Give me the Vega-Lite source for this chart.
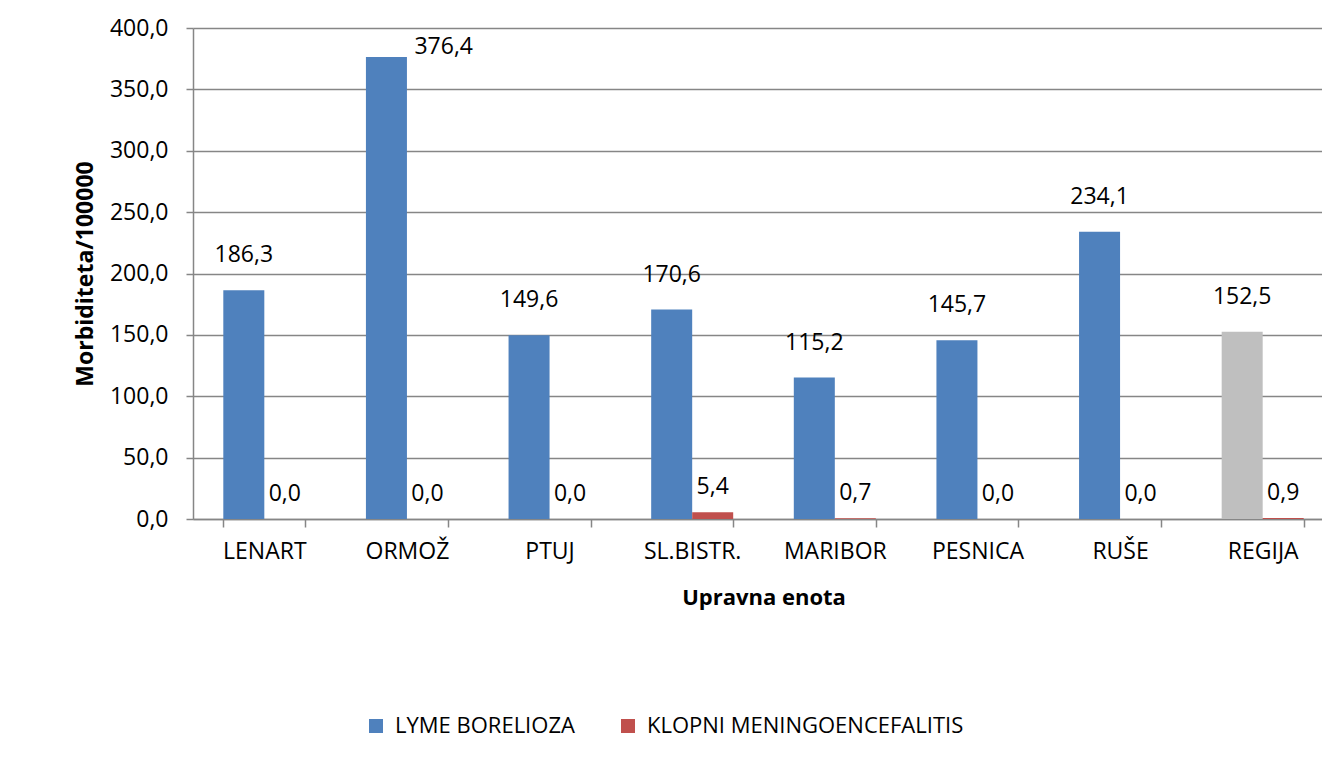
{
  "$schema": "https://vega.github.io/schema/vega-lite/v6.json",
  "width": 1129,
  "height": 491,
  "autosize": {"type": "none"},
  "padding": {"left": 193, "top": 28, "right": 0, "bottom": 241},
  "background": "white",
  "config": {
    "locale": {"number": {"decimal": ",", "thousands": ".", "grouping": [3], "currency": ["", " €"]}},
    "font": "Open Sans",
    "view": {"stroke": null},
    "axis": {
      "domainColor": "#868686",
      "domainWidth": 1.5,
      "tickColor": "#868686",
      "tickWidth": 1.5,
      "gridColor": "#868686",
      "gridWidth": 1.5,
      "labelColor": "#000000",
      "labelFont": "Open Sans",
      "labelFontSize": 23,
      "titleColor": "#000000",
      "titleFont": "Open Sans",
      "titleFontWeight": "bold"
    }
  },
  "data": {
    "values": [
      {"ue": "LENART", "bolezen": "LYME BORELIOZA", "vrednost": 186.3},
      {"ue": "LENART", "bolezen": "KLOPNI MENINGOENCEFALITIS", "vrednost": 0.0},
      {"ue": "ORMOŽ", "bolezen": "LYME BORELIOZA", "vrednost": 376.4},
      {"ue": "ORMOŽ", "bolezen": "KLOPNI MENINGOENCEFALITIS", "vrednost": 0.0},
      {"ue": "PTUJ", "bolezen": "LYME BORELIOZA", "vrednost": 149.6},
      {"ue": "PTUJ", "bolezen": "KLOPNI MENINGOENCEFALITIS", "vrednost": 0.0},
      {"ue": "SL.BISTR.", "bolezen": "LYME BORELIOZA", "vrednost": 170.6},
      {"ue": "SL.BISTR.", "bolezen": "KLOPNI MENINGOENCEFALITIS", "vrednost": 5.4},
      {"ue": "MARIBOR", "bolezen": "LYME BORELIOZA", "vrednost": 115.2},
      {"ue": "MARIBOR", "bolezen": "KLOPNI MENINGOENCEFALITIS", "vrednost": 0.7},
      {"ue": "PESNICA", "bolezen": "LYME BORELIOZA", "vrednost": 145.7},
      {"ue": "PESNICA", "bolezen": "KLOPNI MENINGOENCEFALITIS", "vrednost": 0.0},
      {"ue": "RUŠE", "bolezen": "LYME BORELIOZA", "vrednost": 234.1},
      {"ue": "RUŠE", "bolezen": "KLOPNI MENINGOENCEFALITIS", "vrednost": 0.0},
      {"ue": "REGIJA", "bolezen": "LYME BORELIOZA", "vrednost": 152.5},
      {"ue": "REGIJA", "bolezen": "KLOPNI MENINGOENCEFALITIS", "vrednost": 0.9}
    ]
  },
  "encoding": {
    "x": {
      "field": "ue",
      "type": "nominal",
      "sort": ["LENART", "ORMOŽ", "PTUJ", "SL.BISTR.", "MARIBOR", "PESNICA", "RUŠE", "REGIJA"],
      "scale": {"range": [0, 1141], "paddingInner": 0.425, "paddingOuter": 0.2125},
      "axis": {
        "title": "Upravna enota",
        "titleFontSize": 22,
        "titlePadding": 24,
        "labelAngle": 0,
        "labelPadding": 13,
        "tickBand": "extent",
        "tickSize": 8,
        "grid": false
      }
    },
    "xOffset": {
      "field": "bolezen",
      "type": "nominal",
      "sort": ["LYME BORELIOZA", "KLOPNI MENINGOENCEFALITIS"]
    },
    "y": {
      "field": "vrednost",
      "type": "quantitative",
      "scale": {"domain": [0, 400], "nice": false},
      "axis": {
        "title": "Morbiditeta/100000",
        "titleFontSize": 23,
        "titlePadding": 12,
        "values": [0, 50, 100, 150, 200, 250, 300, 350, 400],
        "format": ".1f",
        "labelPadding": 18,
        "tickSize": 7,
        "grid": true
      }
    }
  },
  "layer": [
    {
      "mark": {"type": "bar"},
      "encoding": {
        "color": {
          "field": "bolezen",
          "type": "nominal",
          "scale": {
            "domain": ["LYME BORELIOZA", "KLOPNI MENINGOENCEFALITIS"],
            "range": ["#4F81BD", "#C0504D"]
          },
          "condition": {
            "test": "datum.ue === 'REGIJA' && datum.bolezen === 'LYME BORELIOZA'",
            "value": "#BFBFBF"
          },
          "legend": {
            "title": null,
            "orient": "none",
            "legendX": 172,
            "legendY": 687,
            "direction": "horizontal",
            "symbolType": "square",
            "symbolSize": 196,
            "symbolStrokeWidth": 0,
            "labelFontSize": 22,
            "labelFont": "Open Sans",
            "labelColor": "#000000",
            "labelLimit": 0,
            "labelOffset": 8,
            "columnPadding": 42
          }
        }
      }
    },
    {
      "transform": [{"filter": "datum.bolezen === 'LYME BORELIOZA' && datum.ue !== 'ORMOŽ'"}],
      "mark": {"type": "text", "dy": -35, "baseline": "middle", "align": "center", "fontSize": 23, "color": "#000000"},
      "encoding": {"text": {"field": "vrednost", "type": "quantitative", "format": ".1f"}}
    },
    {
      "transform": [{"filter": "datum.bolezen === 'LYME BORELIOZA' && datum.ue === 'ORMOŽ'"}],
      "mark": {"type": "text", "dy": -10, "dx": 28, "baseline": "middle", "align": "left", "fontSize": 23, "color": "#000000"},
      "encoding": {"text": {"field": "vrednost", "type": "quantitative", "format": ".1f"}}
    },
    {
      "transform": [{"filter": "datum.bolezen === 'KLOPNI MENINGOENCEFALITIS'"}],
      "mark": {"type": "text", "dy": -25, "baseline": "middle", "align": "center", "fontSize": 23, "color": "#000000"},
      "encoding": {"text": {"field": "vrednost", "type": "quantitative", "format": ".1f"}}
    }
  ]
}
